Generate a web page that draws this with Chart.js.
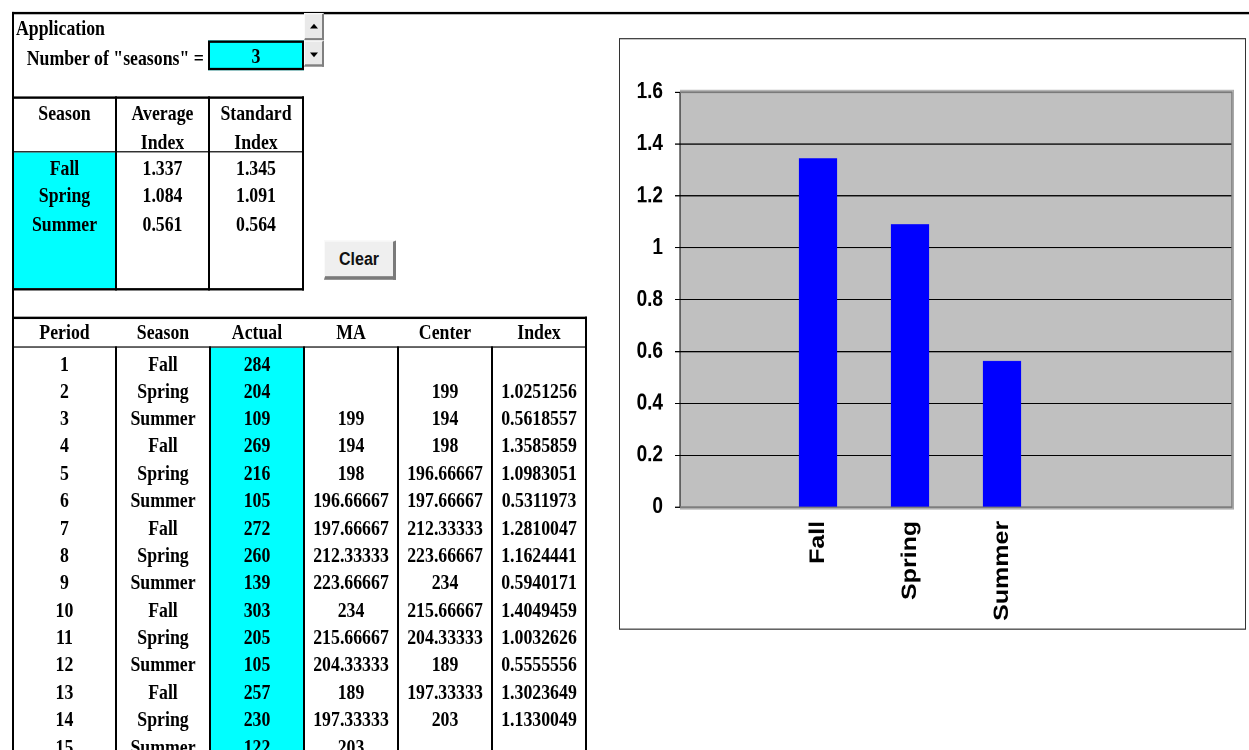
<!DOCTYPE html>
<html>
<head>
<meta charset="utf-8">
<title>Seasonal index</title>
<script src="https://cdn.jsdelivr.net/npm/chart.js@4.4.0/dist/chart.umd.min.js"></script>
<style>
  html, body { margin: 0; padding: 0; background: #fff; overflow: hidden; }
  #page {
    position: absolute; left: 0; top: 0; width: 1249px; height: 630px;
    transform: scaleY(1.1904762); transform-origin: 0 0; overflow: hidden;
  }
  #page div { position: absolute; box-sizing: border-box; }
  .t {
    font: bold 17.8px "Liberation Serif", "Times New Roman", serif;
    color: #000; white-space: nowrap; text-align: center;
  }
  #chartWrap { left: 0; top: 0; right: 0; bottom: 0; }
</style>
</head>
<body>
<div id="page"></div>
<script>
'use strict';

// chart data
var chartCategories = ['', 'Fall', 'Spring', 'Summer', '', ''];
var chartValues = [null, 1.345, 1.091, 0.564, null, null];
var yMin = 0;
var yMax = 1.6;
var yStep = 0.2;

// summary table
var seasonNames = ['Fall', 'Spring', 'Summer'];
var averageIndex = ['1.337', '1.084', '0.561'];
var standardIndex = ['1.345', '1.091', '0.564'];

// period table
var periods = ['1', '2', '3', '4', '5', '6', '7', '8', '9', '10', '11', '12', '13', '14', '15'];
var periodSeasons = ['Fall', 'Spring', 'Summer', 'Fall', 'Spring', 'Summer', 'Fall', 'Spring',
  'Summer', 'Fall', 'Spring', 'Summer', 'Fall', 'Spring', 'Summer'];
var actual = ['284', '204', '109', '269', '216', '105', '272', '260', '139', '303', '205', '105', '257', '230', '122'];
var movingAvg = ['', '', '199', '194', '198', '196.66667', '197.66667', '212.33333', '223.66667',
  '234', '215.66667', '204.33333', '189', '197.33333', '203'];
var centered = ['', '199', '194', '198', '196.66667', '197.66667', '212.33333', '223.66667', '234',
  '215.66667', '204.33333', '189', '197.33333', '203', ''];
var seasonalIndex = ['', '1.0251256', '0.5618557', '1.3585859', '1.0983051', '0.5311973', '1.2810047',
  '1.1624441', '0.5940171', '1.4049459', '1.0032626', '0.5555556', '1.3023649', '1.1330049', ''];

var S = 750 / 630;
var page = document.getElementById('page');

function box(x1, y1, x2, y2, css) {
  var d = document.createElement('div');
  d.style.left = x1 + 'px';
  d.style.top = (y1 / S) + 'px';
  d.style.width = (x2 - x1) + 'px';
  d.style.height = ((y2 - y1) / S) + 'px';
  Object.assign(d.style, css || {});
  page.appendChild(d);
  return d;
}

function fill(x1, y1, x2, y2, color) {
  return box(x1, y1, x2, y2, { background: color });
}

function text(cx, cy, str, css) {
  var lh = 22;
  var d = document.createElement('div');
  d.className = 't';
  d.textContent = str;
  d.style.left = (cx - 150) + 'px';
  d.style.width = '300px';
  d.style.top = (cy / S - lh / 2) + 'px';
  d.style.height = lh + 'px';
  d.style.lineHeight = lh + 'px';
  Object.assign(d.style, css || {});
  page.appendChild(d);
  return d;
}

function leftText(x, cy, str) {
  return text(x + 150, cy, str, { textAlign: 'left' });
}

// cyan cells
fill(14, 152.8, 115, 288.3, '#00ffff');
fill(211, 347.5, 303, 750, '#00ffff');
box(208, 40, 304, 70.7, { background: '#00ffff', border: '2px solid #000' });

// sheet borders
fill(12, 12.3, 1249, 14.2, '#000');
fill(12, 12.3, 14, 750, '#000');

// summary table lines
fill(12, 97, 304, 99, '#000');
fill(12, 151, 304, 152.8, '#000');
fill(12, 288.3, 304, 290.8, '#000');
[115, 208.3, 302].forEach(function (x) { fill(x, 97, x + 2, 290.8, '#000'); });

// period table lines
fill(12, 316.5, 587, 319.3, '#000');
fill(12, 346, 587, 347.5, '#000');
[115, 209, 303, 397, 491].forEach(function (x) { fill(x, 347, x + 2, 750, '#000'); });
fill(585, 316.5, 587, 750, '#000');

// header texts
leftText(16, 27.5, 'Application');
leftText(26.7, 57.8, 'Number of "seasons" =');
text(256, 56.5, '3');

text(64.5, 113, 'Season');
text(162.5, 113, 'Average');
text(162.5, 141.7, 'Index');
text(256, 113, 'Standard');
text(256, 141.7, 'Index');

for (var i = 0; i < seasonNames.length; i++) {
  var ry = 168 + 27.8 * i;
  text(64.5, ry, seasonNames[i]);
  text(162.5, ry, averageIndex[i]);
  text(256, ry, standardIndex[i]);
}

var colX = [64.5, 163, 257, 351, 445, 539];
var heads = ['Period', 'Season', 'Actual', 'MA', 'Center', 'Index'];
heads.forEach(function (h, k) { text(colX[k], 332.5, h); });

for (var r = 0; r < periods.length; r++) {
  var y = 363.7 + 27.3 * r;
  var row = [periods[r], periodSeasons[r], actual[r], movingAvg[r], centered[r], seasonalIndex[r]];
  for (var c = 0; c < row.length; c++) {
    if (row[c]) text(colX[c], y, row[c]);
  }
}

// spinner buttons
function spinButton(y1, y2, up) {
  var b = box(304, y1, 324, y2, {
    background: '#e9e9e9',
    borderTop: '1px solid #fbfbfb', borderLeft: '1px solid #fbfbfb',
    borderRight: '2px solid #808080', borderBottom: '2px solid #808080'
  });
  var tri = document.createElement('div');
  tri.style.left = '5px';
  tri.style.top = up ? '8px' : '9px';
  tri.style.width = '0';
  tri.style.height = '0';
  tri.style.borderLeft = '4px solid transparent';
  tri.style.borderRight = '4px solid transparent';
  if (up) tri.style.borderBottom = '4px solid #000';
  else tri.style.borderTop = '4px solid #000';
  b.appendChild(tri);
}
spinButton(13.5, 40, true);
spinButton(40.5, 67, false);

// clear button
var clearBtn = box(324, 240, 396, 279.5, {
  background: '#efefef',
  borderTop: '1px solid #fafafa', borderLeft: '1px solid #fafafa',
  borderRight: '3px solid #7a7a7a', borderBottom: '3px solid #7a7a7a',
  font: 'bold 16px "Liberation Sans", Arial, sans-serif',
  textAlign: 'center', lineHeight: ((279.5 - 240) / S - 3) + 'px', color: '#111'
});
clearBtn.textContent = 'Clear';

// chart frame
var chartBox = box(619, 38, 1246, 630, { border: '1px solid #333', background: '#fff' });
var wrap = document.createElement('div');
wrap.id = 'chartWrap';
var canvas = document.createElement('canvas');
wrap.appendChild(canvas);
chartBox.appendChild(wrap);

var plotFrame = {
  id: 'plotFrame',
  beforeDraw: function (chart) {
    var a = chart.chartArea, ctx = chart.ctx;
    ctx.save();
    ctx.fillStyle = '#c0c0c0';
    ctx.fillRect(a.left, a.top, a.right - a.left, a.bottom - a.top);
    ctx.restore();
  },
  beforeDatasetsDraw: function (chart) {
    var a = chart.chartArea, ctx = chart.ctx;
    ctx.save();
    ctx.strokeStyle = '#a9a9a9';
    ctx.lineWidth = 1;
    ctx.beginPath();
    ctx.moveTo(a.left, a.top - 1.5);
    ctx.lineTo(a.right + 1.5, a.top - 1.5);
    ctx.lineTo(a.right + 1.5, a.bottom + 1.5);
    ctx.lineTo(a.left, a.bottom + 1.5);
    ctx.stroke();
    ctx.strokeStyle = '#7a7a7a';
    ctx.lineWidth = 1.5;
    ctx.beginPath();
    ctx.moveTo(a.left, a.top);
    ctx.lineTo(a.right, a.top);
    ctx.lineTo(a.right, a.bottom);
    ctx.lineTo(a.left, a.bottom);
    ctx.stroke();
    ctx.restore();
  }
};

var labelFont = 'Liberation Sans, Arial, sans-serif';

new Chart(canvas, {
  type: 'bar',
  data: {
    labels: chartCategories,
    datasets: [{
      data: chartValues,
      backgroundColor: '#0000ff',
      borderWidth: 0,
      categoryPercentage: 1,
      barPercentage: 0.415
    }]
  },
  options: {
    responsive: true,
    maintainAspectRatio: false,
    animation: false,
    devicePixelRatio: 2,
    layout: { padding: { top: 44.4, right: 13, bottom: 0, left: 0 } },
    plugins: { legend: { display: false }, tooltip: { enabled: false } },
    scales: {
      x: {
        grid: { display: false, drawTicks: false },
        border: { display: false },
        ticks: {
          autoSkip: false, minRotation: 90, maxRotation: 90, padding: 11.5, color: '#000',
          font: { family: labelFont, weight: 'bold', size: 21 }
        },
        afterFit: function (s) { s.height = 102.3; }
      },
      y: {
        min: yMin,
        max: yMax,
        ticks: {
          stepSize: yStep, padding: 12, color: '#000',
          font: { family: labelFont, weight: 'bold', size: 19 },
          callback: function (v) { return String(parseFloat(v.toFixed(1))); }
        },
        grid: { color: '#000', lineWidth: 1, tickLength: 5 },
        border: { display: true, color: '#000', width: 1 },
        afterFit: function (s) { s.width = 60; }
      }
    }
  },
  plugins: [plotFrame]
});
</script>
</body>
</html>
